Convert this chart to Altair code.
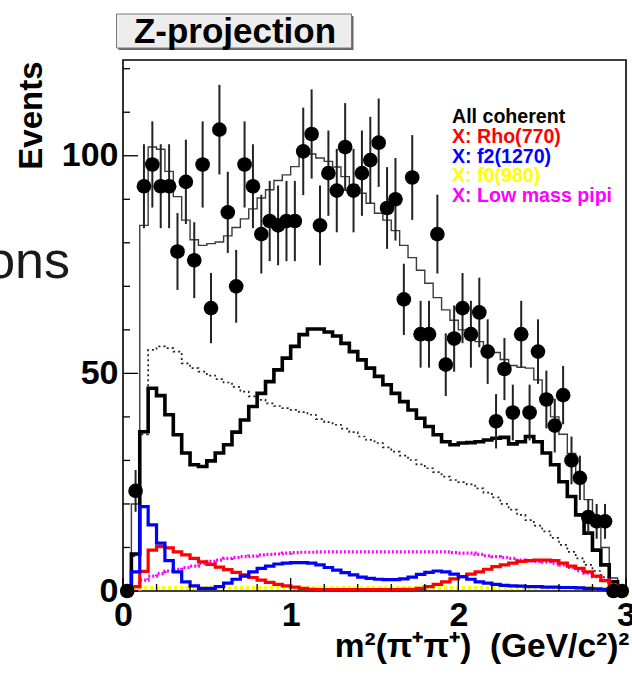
import altair as alt
import pandas as pd

FONT = "Liberation Sans"
BIN_WIDTH = 0.05

# ---- data (60 bins of 0.05 over 0..3) ----
data_counts = [0, 23, 93, 98, 93, 93, 78, 94, 76, 98,
               65, 106, 87, 70, 98, 93, 82, 85, 84, 85,
               85, 101, 105, 84, 96, 92, 102, 92, 96, 99,
               103, 88, 90, 67, 95, 59, 59, 82, 52, 58,
               65, 59, 64, 55, 39, 51, 41, 59, 41, 55,
               44, 38, 45, 30, 26, 17, 16, 16, 0, 0]

total_fit = [0, 20, 84, 102, 101.5, 96.4, 90.6, 85.2, 80.7, 79.4,
             79.8, 80.2, 81.6, 83.5, 85.5, 87.8, 90.3, 92.2, 94.3, 95.6,
             97.5, 99.9, 100.4, 99.5, 98.7, 97.4, 95.2, 93.3, 91.4, 89.1,
             86.8, 85.2, 82.8, 79.4, 76.6, 73.7, 70.7, 67.4, 64.6, 62.2,
             60.0, 58.5, 57.3, 56.0, 54.8, 53.2, 51.8, 51.4, 51.2, 48.5,
             44.0, 40.0, 36.0, 31.6, 25.5, 21.0, 16.0, 10.0, 3.0, 1.0]

all_coherent = [0, 8.5, 36.6, 46.6, 44.9, 40.5, 35.9, 31.7, 29.0, 28.6,
                29.9, 31.7, 33.6, 36.5, 39.3, 42.4, 45.4, 48.1, 50.8, 53.5,
                56.2, 58.9, 60.2, 60.2, 59.5, 58.6, 56.9, 55.0, 53.1, 51.2,
                49.3, 47.4, 45.4, 43.5, 41.6, 39.7, 37.8, 35.9, 34.3, 33.6,
                34.0, 34.1, 34.3, 34.7, 35.1, 35.3, 33.8, 34.3, 35.5, 34.3,
                31.7, 29.0, 25.1, 21.7, 17.5, 13.3, 9.4, 6.0, 2.1, 0.5]

incoherent = [0, 8, 36, 55.4, 56.2, 55.8, 55.0, 52.3, 51.2, 50.4,
              49.5, 48.7, 47.9, 46.9, 45.8, 44.7, 43.9, 43.1, 42.5, 42.0,
              41.6, 41.1, 40.5, 39.5, 38.8, 38.2, 37.3, 36.5, 35.5, 34.7,
              34.0, 33.0, 32.0, 31.1, 30.1, 29.1, 28.2, 27.3, 26.3, 25.5,
              25.0, 24.5, 23.6, 22.6, 21.5, 20.0, 18.7, 17.5, 16.3, 15.0,
              13.7, 12.2, 10.6, 9.0, 7.5, 6.0, 4.6, 3.2, 2.0, 0.8]

rho770 = [0, 1.0, 4.5, 9.4, 10.2, 9.9, 9.0, 8.3, 7.5, 6.7,
          6.1, 5.5, 4.9, 4.3, 3.7, 3.1, 2.5, 2.0, 1.5, 1.2,
          0.9, 0.6, 0.4, 0.3, 0.3, 0.3, 0.3, 0.3, 0.3, 0.3,
          0.3, 0.3, 0.3, 0.4, 0.4, 0.6, 1.0, 1.5, 2.1, 2.8,
          3.3, 3.9, 4.4, 5.0, 5.6, 6.0, 6.4, 6.8, 7.0, 7.1,
          7.1, 7.0, 6.4, 5.7, 5.2, 4.4, 3.4, 2.4, 1.2, 0.3]

f2_1270 = [0, 4.4, 19.4, 15.2, 11.0, 7.0, 4.4, 2.1, 1.2, 0.6,
           0.6, 1.0, 1.8, 2.7, 3.4, 4.4, 5.2, 5.7, 6.2, 6.4,
           6.5, 6.5, 6.4, 6.0, 5.4, 4.8, 4.2, 3.7, 3.2, 2.9,
           2.7, 2.6, 2.6, 2.8, 3.2, 3.8, 4.3, 4.6, 4.4, 3.9,
           3.3, 2.7, 2.1, 1.8, 1.5, 1.3, 1.2, 1.1, 1.0, 1.0,
           0.9, 0.9, 0.8, 0.8, 0.7, 0.6, 0.5, 0.4, 0.3, 0.1]

f0_980 = [0, 0.6, 0.7, 0.7, 0.7, 0.7, 0.7, 0.7, 0.7, 0.7,
          0.7, 0.7, 0.7, 0.7, 0.7, 0.7, 0.7, 0.7, 0.7, 0.7,
          0.7, 0.7, 0.7, 0.7, 0.7, 0.7, 0.7, 0.7, 0.7, 0.7,
          0.7, 0.7, 0.7, 0.7, 0.7, 0.7, 0.7, 0.7, 0.7, 0.7,
          0.7, 0.7, 0.7, 0.7, 0.7, 0.7, 0.7, 0.7, 0.7, 0.7,
          0.7, 0.7, 0.7, 0.7, 0.7, 0.7, 0.6, 0.6, 0.5, 0.4]

low_mass = [0, 0.3, 2.5, 3.4, 4.0, 4.6, 5.0, 5.4, 5.7, 6.4,
            6.8, 7.1, 7.5, 7.7, 7.9, 8.0, 8.3, 8.4, 8.5, 8.7,
            8.8, 8.9, 8.9, 9.0, 9.0, 9.0, 9.0, 9.0, 9.0, 9.0,
            9.0, 9.0, 9.0, 9.0, 9.0, 9.0, 9.0, 9.0, 9.0, 8.8,
            8.7, 8.7, 8.4, 8.1, 7.9, 7.7, 7.5, 7.1, 6.9, 6.8,
            6.6, 6.4, 6.0, 5.4, 4.7, 4.1, 3.3, 2.5, 1.4, 0.3]

legend_labels = ["All coherent", "X: Rho(770)", "X: f2(1270)", "X: f0(980)", "X: Low mass pipi"]
legend_colors = ["#000000", "#ff0000", "#0000ff", "#ffff00", "#ff00ff"]

x_major = [0, 1, 2, 3]
x_minor = [0.2, 0.4, 0.6, 0.8, 1.2, 1.4, 1.6, 1.8, 2.2, 2.4, 2.6, 2.8]
y_major = [0, 50, 100]
y_minor = [10, 20, 30, 40, 60, 70, 80, 90, 110, 120]

TITLE = "Z-projection"
Y_TITLE = "Events"
X_TITLE = "m\u00b2(\u03c0\u207a\u03c0\u207a)\u00a0 (GeV/c\u00b2)\u00b2"
SIDE_TEXT = "ons"

# ---- layout ----
W, H = 503, 531
PAD = {"left": 123, "top": 60, "right": 632 - 123 - W, "bottom": 684 - 60 - H}

X_SCALE = alt.Scale(domain=[0, 3], nice=False, zero=False)
Y_SCALE = alt.Scale(domain=[0, 122], nice=False, zero=True)

x_axis = alt.Axis(values=x_major, format="d", ticks=False, domain=False, grid=False,
                  labelFont=FONT, labelFontSize=34, labelFontWeight="bold", labelColor="black",
                  labelPadding=7, labelFlush=False, labelOverlap=False,
                  title=X_TITLE, titleFont=FONT, titleFontSize=33.5, titleFontWeight="bold",
                  titleColor="black", titleX=506, titleY=65, titleAlign="right",
                  titleBaseline="alphabetic")
y_axis = alt.Axis(values=y_major, format="d", ticks=False, domain=False, grid=False,
                  labelFont=FONT, labelFontSize=34, labelFontWeight="bold", labelColor="black",
                  labelPadding=5, labelFlush=False, labelOverlap=False,
                  title=Y_TITLE, titleFont=FONT, titleFontSize=33, titleFontWeight="bold",
                  titleColor="black", titleAngle=270, titleX=-92, titleY=1,
                  titleAlign="right", titleBaseline="middle")


def X(field):
    return alt.X(field, type="quantitative", scale=X_SCALE, axis=x_axis)


def Y(field):
    return alt.Y(field, type="quantitative", scale=Y_SCALE, axis=y_axis)


def step_df(values):
    xs = [i * BIN_WIDTH for i in range(len(values))] + [len(values) * BIN_WIDTH]
    ys = list(values) + [values[-1]]
    return pd.DataFrame({"x": xs, "y": ys})


def hist_layer(values, color, width, dash=None):
    kw = dict(interpolate="step-after", color=color, strokeWidth=width, clip=True)
    if dash is not None:
        kw["strokeDash"] = dash
    return alt.Chart(step_df(values)).mark_line(**kw).encode(x=X("x"), y=Y("y"))


layers = [
    hist_layer(incoherent, "#222222", 1.7, [2, 3]),
    hist_layer(total_fit, "#3a3a3a", 1.4),
    hist_layer(all_coherent, "#000000", 3.6),
    hist_layer(low_mass, "#ff00ff", 3.2, [2, 2]),
    hist_layer(f0_980, "#ffff00", 4, [3, 3]),
    hist_layer(rho770, "#ff0000", 3.2),
    hist_layer(f2_1270, "#0000ff", 3.2),
]

pts = pd.DataFrame({"x": [(i + 0.5) * BIN_WIDTH for i in range(len(data_counts))],
                    "n": data_counts})

errbars = alt.Chart(pts).transform_filter("datum.n > 0").transform_calculate(
    lo="datum.n - sqrt(datum.n)", hi="datum.n + sqrt(datum.n)"
).mark_rule(color="#222222", strokeWidth=2).encode(x=X("x"), y=Y("lo"), y2="hi")

points = alt.Chart(pts).mark_circle(size=215, color="black", opacity=1).encode(
    x=X("x"), y=Y("n"))

layers += [errbars, points]

# inward tick marks through the scales
xmaj = alt.Chart(pd.DataFrame({"t": x_major})).mark_rule(color="black", strokeWidth=1.3).encode(
    x=X("t"), y=alt.value(H), y2=alt.value(H - 13))
xmin = alt.Chart(pd.DataFrame({"t": x_minor})).mark_rule(color="black", strokeWidth=1.3).encode(
    x=X("t"), y=alt.value(H), y2=alt.value(H - 7))
ymaj = alt.Chart(pd.DataFrame({"t": y_major})).mark_rule(color="black", strokeWidth=1.3).encode(
    y=Y("t"), x=alt.value(0), x2=alt.value(15))
ymin = alt.Chart(pd.DataFrame({"t": y_minor})).mark_rule(color="black", strokeWidth=1.3).encode(
    y=Y("t"), x=alt.value(0), x2=alt.value(7))
layers += [xmaj, xmin, ymaj, ymin]

# title pave with shadow
one = pd.DataFrame({"a": [0]})
shadow = alt.Chart(one).mark_rect(fill="#666666").encode(
    x=alt.value(-4.5), x2=alt.value(230.5), y=alt.value(-44), y2=alt.value(-10))
pave = alt.Chart(one).mark_rect(fill="#ededed", stroke="#777777", strokeWidth=1).encode(
    x=alt.value(-6.5), x2=alt.value(228.5), y=alt.value(-46), y2=alt.value(-12))
title_txt = alt.Chart(one).mark_text(font=FONT, fontSize=35, fontWeight="bold", color="black",
                                     align="center", baseline="middle").encode(
    x=alt.value(112), y=alt.value(-28), text=alt.value(TITLE))
side_txt = alt.Chart(one).mark_text(font=FONT, fontSize=52, fontWeight="normal", color="#1a1a1a",
                                    align="right", baseline="alphabetic").encode(
    x=alt.value(-53), y=alt.value(218), text=alt.value(SIDE_TEXT))
layers += [shadow, pave, title_txt, side_txt]

# legend as coloured text
for i, (lab, col) in enumerate(zip(legend_labels, legend_colors)):
    layers.append(
        alt.Chart(one).mark_text(font=FONT, fontSize=19.6, fontWeight="bold", color=col,
                                 align="left", baseline="middle").encode(
            x=alt.value(329), y=alt.value(57 + 19.8 * i), text=alt.value(lab)))

chart = alt.layer(*layers).properties(
    width=W, height=H,
    autosize=alt.AutoSizeParams(type="none"),
    padding=PAD,
    background="white",
).configure_view(stroke="black", strokeWidth=1.6)

chart.save("out.html", embed_options={"renderer": "svg", "actions": False})
